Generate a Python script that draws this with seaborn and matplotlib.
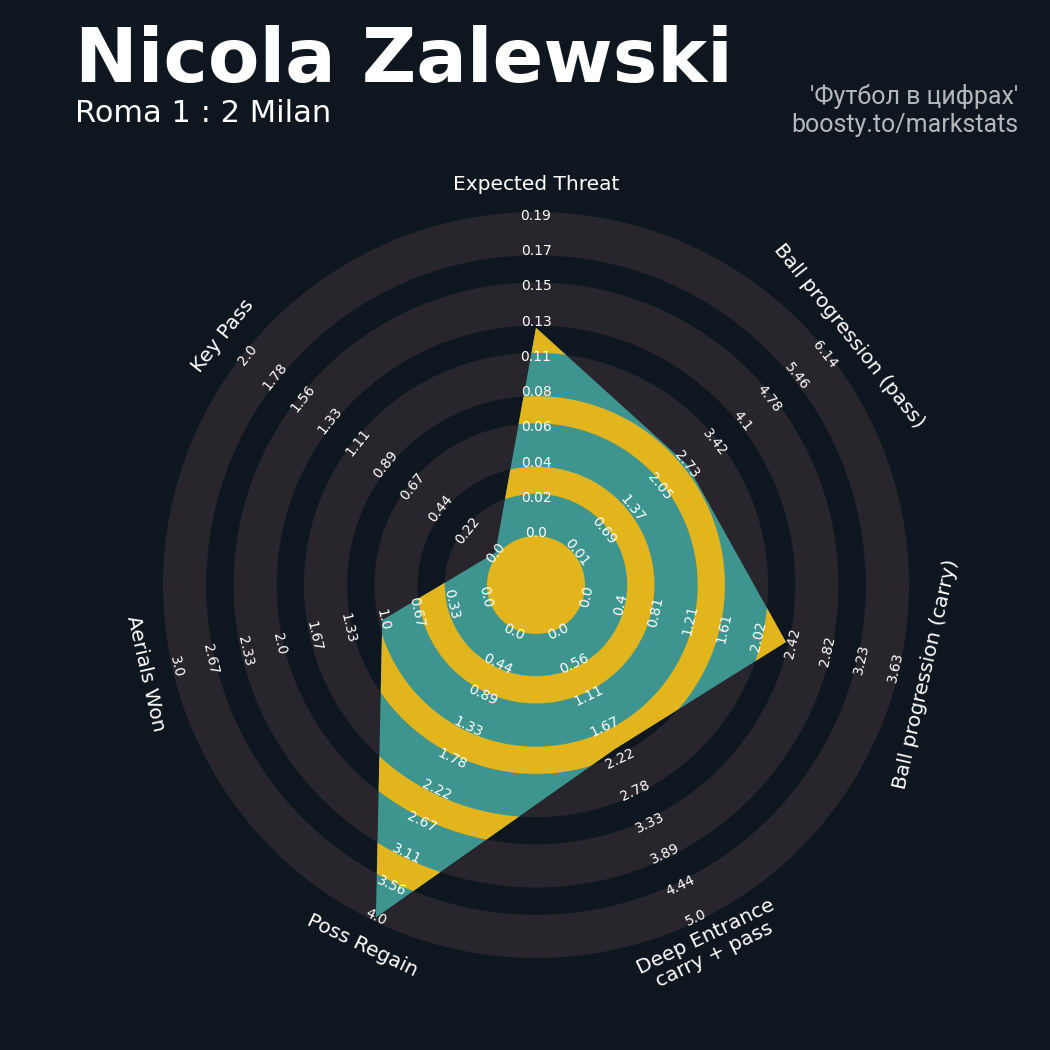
import numpy as np
import matplotlib
matplotlib.use("Agg")
import matplotlib.pyplot as plt
from matplotlib.patches import Circle, Wedge, Polygon
import seaborn as sns

# radar data
params = ["Expected Threat", "Ball progression (pass)", "Ball progression (carry)",
          "Deep Entrance\ncarry + pass", "Poss Regain", "Aerials Won", "Key Pass"]
low = [0.0, 0.01, 0.0, 0.0, 0.0, 0.0, 0.0]
high = [0.19, 6.14, 3.63, 5.0, 4.0, 3.0, 2.0]
values = [0.123, 2.74, 2.34, 2.05, 4.0, 1.0, 0.0]

title = "Nicola Zalewski"
subtitle = "Roma 1 : 2 Milan"
credit = ["'Футбол в цифрах'", "boosty.to/markstats"]

BG = "#0e1720"
RING = "#28252c"
TEAL = "#3e9590"
GOLD = "#e3b51d"

sns.set_theme(style="dark", rc={"figure.facecolor": BG, "axes.facecolor": BG})
plt.rcParams["font.family"] = ["DejaVu Sans"]

fig = plt.figure(figsize=(10.5, 10.5), dpi=100)
ax = fig.add_axes([0, 0, 1, 1])
ax.set_xlim(-536, 514)
ax.set_ylim(-465, 585)
ax.set_aspect("equal")
ax.axis("off")

# geometry, in pixels from the centre
r0, r9 = 52, 369
n_lab = 10
grid = np.linspace(r0, r9, n_lab)
pad = 4
edges = [49] + [g + pad if i % 2 else g - pad for i, g in enumerate(grid[1:], start=1)]

# background rings
for j in range(0, 10, 2):
    r_in, r_out = edges[j], edges[j + 1]
    ax.add_patch(Wedge((0, 0), r_out, 0, 360, width=r_out - r_in,
                       facecolor=RING, edgecolor="none", zorder=1))

n = len(params)
theta = np.deg2rad(90 - np.arange(n) * 360 / n)
frac = [(v - lo) / (hi - lo) for v, lo, hi in zip(values, low, high)]
rad = r0 + np.array(frac) * (r9 - r0)
xy = np.column_stack([rad * np.cos(theta), rad * np.sin(theta)])

poly = Polygon(xy, closed=True, facecolor=TEAL, edgecolor="none", zorder=2)
ax.add_patch(poly)

gold = [Circle((0, 0), edges[0])]
for j in range(1, 9, 2):
    r_in, r_out = edges[j], edges[j + 1]
    gold.append(Wedge((0, 0), r_out, 0, 360, width=r_out - r_in))
for p in gold:
    p.set_facecolor(GOLD)
    p.set_edgecolor("none")
    p.set_zorder(3)
    ax.add_patch(p)
    p.set_clip_path(poly)


def text_rot(t):
    rot = np.rad2deg(t) - 90
    rot = (rot + 180) % 360 - 180
    if abs(rot) > 90:
        rot = (rot + 360) % 360 - 180
    return rot


for i, t in enumerate(theta):
    rot = text_rot(t)
    ax.text(400 * np.cos(t), 400 * np.sin(t), params[i], rotation=rot,
            rotation_mode="anchor", ha="center", va="center",
            fontsize=14.5, color="white", zorder=5, linespacing=1.05)
    steps = np.linspace(low[i], high[i], n_lab)
    for k in range(n_lab):
        ax.text(grid[k] * np.cos(t), grid[k] * np.sin(t), str(round(steps[k], 2)),
                rotation=rot, rotation_mode="anchor", ha="center", va="center",
                fontsize=10, color="white", zorder=5)

fig.text(75 / 1050, 1 - 82 / 1050, title, fontsize=54, fontweight="bold",
         color="white", ha="left", va="baseline")
fig.text(75 / 1050, 1 - 122 / 1050, subtitle, fontsize=22,
         color="white", ha="left", va="baseline")
fig.text(1018 / 1050, 1 - 104 / 1050, credit[0], fontsize=18, family=["Roboto"],
         color="#b3b8bd", ha="right", va="baseline")
fig.text(1018 / 1050, 1 - 132 / 1050, credit[1], fontsize=18, family=["Roboto"],
         color="#b3b8bd", ha="right", va="baseline")

fig.savefig("out.png", dpi=100, facecolor=BG)
